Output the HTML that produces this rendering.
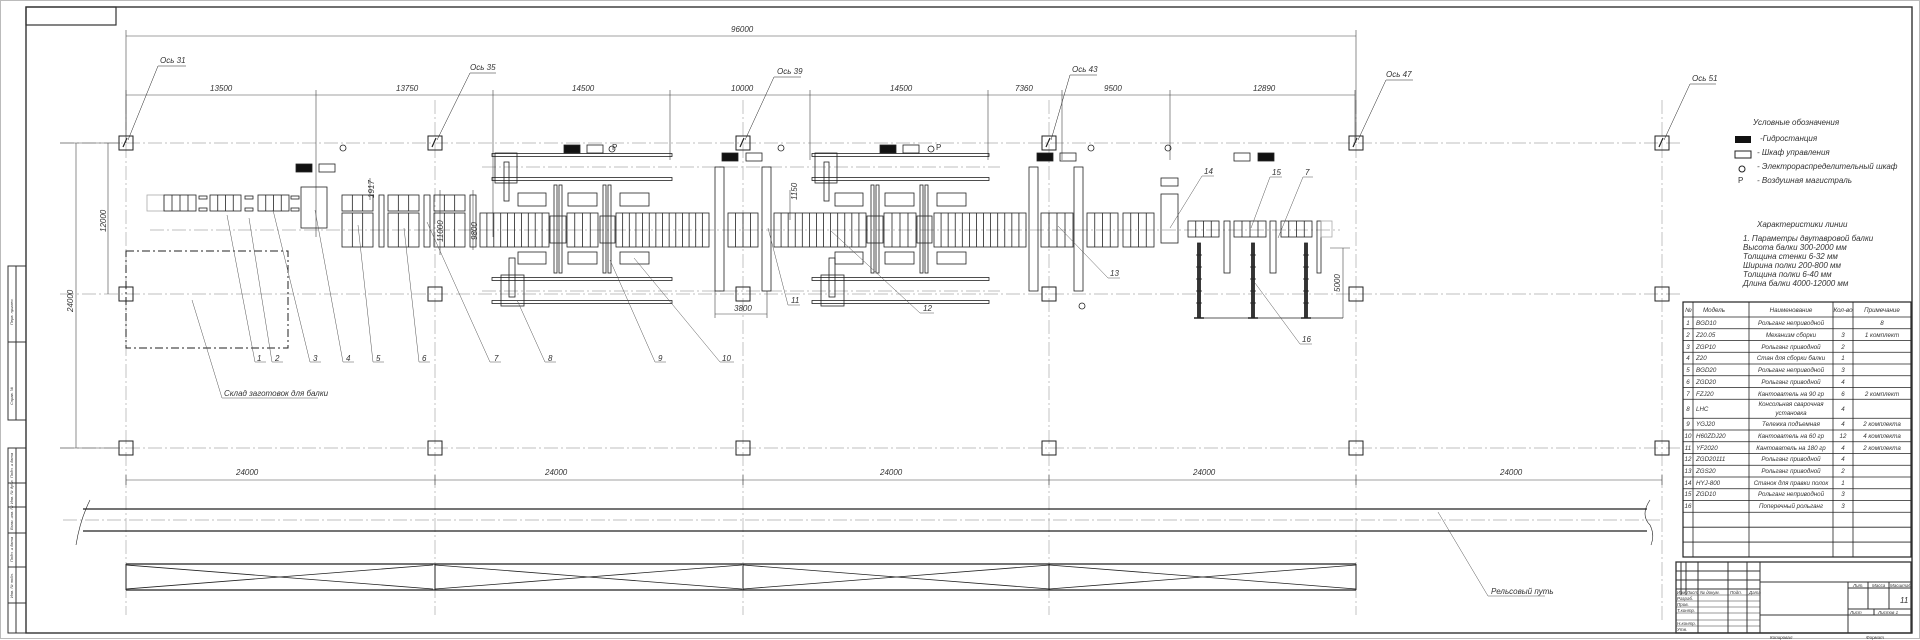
<!DOCTYPE html>
<html><head><meta charset="utf-8">
<style>
html,body{margin:0;padding:0;background:#fff;}
svg{display:block}
text{font-family:"Liberation Sans",sans-serif;font-style:italic;fill:#333;}
</style></head>
<body>
<svg id="s" width="1920" height="640" viewBox="0 0 1920 640" xmlns="http://www.w3.org/2000/svg">
<rect x="0.5" y="0.5" width="1919" height="638" fill="none" stroke="#bbb" stroke-width="1"/>
<g id="g" fill="none" stroke="#222" stroke-width="0.8"></g>
<rect x="26" y="7" width="1886" height="626" fill="none" stroke="#333" stroke-width="1.4"/>
<rect x="26" y="7" width="90" height="18" fill="none" stroke="#333" stroke-width="1.2"/>
<g fill="none" stroke="#333" stroke-width="1">
<rect x="8" y="266" width="18" height="154"/><line x1="16" y1="266" x2="16" y2="420"/><line x1="8" y1="342" x2="26" y2="342"/>
<rect x="8" y="448" width="18" height="185"/><line x1="16" y1="448" x2="16" y2="633"/>
<line x1="8" y1="483" x2="26" y2="483"/><line x1="8" y1="507" x2="26" y2="507"/><line x1="8" y1="533" x2="26" y2="533"/><line x1="8" y1="567" x2="26" y2="567"/><line x1="8" y1="603" x2="26" y2="603"/>
</g>
<g font-size="4">
<text transform="translate(13,325) rotate(-90)">Перв. примен.</text>
<text transform="translate(13,405) rotate(-90)">Справ. №</text>
<text transform="translate(13,478) rotate(-90)">Подп. и дата</text>
<text transform="translate(13,504) rotate(-90)">Инв. № дубл.</text>
<text transform="translate(13,530) rotate(-90)">Взам. инв. №</text>
<text transform="translate(13,562) rotate(-90)">Подп. и дата</text>
<text transform="translate(13,598) rotate(-90)">Инв. № подл.</text>
</g>

<g font-size="8">
<text x="731" y="32">96000</text>
<text x="210" y="91">13500</text>
<text x="396" y="91">13750</text>
<text x="572" y="91">14500</text>
<text x="731" y="91">10000</text>
<text x="890" y="91">14500</text>
<text x="1015" y="91">7360</text>
<text x="1104" y="91">9500</text>
<text x="1253" y="91">12890</text>
<text x="236" y="475">24000</text>
<text x="545" y="475">24000</text>
<text x="880" y="475">24000</text>
<text x="1193" y="475">24000</text>
<text x="1500" y="475">24000</text>
<text x="734" y="311">3800</text>
<text transform="translate(73,312) rotate(-90)">24000</text>
<text transform="translate(106,232) rotate(-90)">12000</text>
<text transform="translate(374,198) rotate(-90)">1917</text>
<text transform="translate(443,242) rotate(-90)">11000</text>
<text transform="translate(477,240) rotate(-90)">9800</text>
<text transform="translate(797,200) rotate(-90)">1150</text>
<text transform="translate(1340,292) rotate(-90)">5000</text>
<text x="160" y="63">Ось 31</text>
<text x="470" y="70">Ось 35</text>
<text x="777" y="74">Ось 39</text>
<text x="1072" y="72">Ось 43</text>
<text x="1386" y="77">Ось 47</text>
<text x="1692" y="81">Ось 51</text>
<text x="257" y="361">1</text><text x="275" y="361">2</text><text x="313" y="361">3</text><text x="346" y="361">4</text><text x="376" y="361">5</text><text x="422" y="361">6</text><text x="494" y="361">7</text><text x="548" y="361">8</text><text x="658" y="361">9</text><text x="722" y="361">10</text>
<text x="791" y="303">11</text><text x="923" y="311">12</text><text x="1110" y="276">13</text><text x="1204" y="174">14</text><text x="1272" y="175">15</text><text x="1305" y="175">7</text><text x="1302" y="342">16</text>
<text x="224" y="396">Склад заготовок для балки</text>
<text x="1491" y="594">Рельсовый путь</text>
<text x="612" y="150" style="font-style:normal">P</text>
<text x="936" y="150" style="font-style:normal">P</text>
</g>
<g font-size="8">
<text x="1753" y="125">Условные обозначения</text>
<text x="1760" y="141">-Гидростанция</text>
<text x="1757" y="155">- Шкаф управления</text>
<text x="1757" y="169">- Электрораспределительный шкаф</text>
<text x="1738" y="183" style="font-style:normal">P</text>
<text x="1757" y="183">- Воздушная магистраль</text>
<text x="1757" y="227">Характеристики линии</text>
<text x="1743" y="241">1. Параметры двутавровой балки</text>
<text x="1743" y="250">Высота балки 300-2000 мм</text>
<text x="1743" y="259">Толщина стенки 6-32 мм</text>
<text x="1743" y="268">Ширина полки 200-800 мм</text>
<text x="1743" y="277">Толщина полки 6-40 мм</text>
<text x="1743" y="286">Длина балки 4000-12000 мм</text>
</g>
<rect x="1735" y="136" width="16" height="7" fill="#111"/>
<rect x="1735" y="151" width="16" height="7" fill="none" stroke="#222"/>
<circle cx="1742" cy="169" r="3" fill="none" stroke="#222"/>
<g id="tb" fill="none" stroke="#333" stroke-width="0.8"></g>
<g font-size="6.2">
<text x="1685" y="312">№</text><text x="1703" y="312">Модель</text>
<g text-anchor="middle">
<text x="1791" y="312">Наименование</text><text x="1843" y="312">Кол-во</text><text x="1882" y="312">Примечание</text>
<text x="1791" y="325">Рольганг неприводной</text><text x="1882" y="325">8</text>
<text x="1791" y="337">Механизм сборки</text><text x="1843" y="337">3</text><text x="1882" y="337">1 комплект</text>
<text x="1791" y="349">Рольганг приводной</text><text x="1843" y="349">2</text>
<text x="1791" y="360">Стан для сборки балки</text><text x="1843" y="360">1</text>
<text x="1791" y="372">Рольганг неприводной</text><text x="1843" y="372">3</text>
<text x="1791" y="384">Рольганг приводной</text><text x="1843" y="384">4</text>
<text x="1791" y="396">Кантователь на 90 гр</text><text x="1843" y="396">6</text><text x="1882" y="396">2 комплект</text>
<text x="1791" y="406">Консольная сварочная</text><text x="1791" y="415">установка</text><text x="1843" y="411">4</text>
<text x="1791" y="426">Тележка подъемная</text><text x="1843" y="426">4</text><text x="1882" y="426">2 комплекта</text>
<text x="1791" y="438">Кантователь на 60 гр</text><text x="1843" y="438">12</text><text x="1882" y="438">4 комплекта</text>
<text x="1791" y="450">Кантователь на 180 гр</text><text x="1843" y="450">4</text><text x="1882" y="450">2 комплекта</text>
<text x="1791" y="461">Рольганг приводной</text><text x="1843" y="461">4</text>
<text x="1791" y="473">Рольганг приводной</text><text x="1843" y="473">2</text>
<text x="1791" y="485">Станок для правки полок</text><text x="1843" y="485">1</text>
<text x="1791" y="496">Рольганг неприводной</text><text x="1843" y="496">3</text>
<text x="1791" y="508">Поперечный рольганг</text><text x="1843" y="508">3</text>
<text x="1688" y="325">1</text><text x="1688" y="337">2</text><text x="1688" y="349">3</text><text x="1688" y="360">4</text><text x="1688" y="372">5</text><text x="1688" y="384">6</text><text x="1688" y="396">7</text><text x="1688" y="411">8</text><text x="1688" y="426">9</text><text x="1688" y="438">10</text><text x="1688" y="450">11</text><text x="1688" y="461">12</text><text x="1688" y="473">13</text><text x="1688" y="485">14</text><text x="1688" y="496">15</text><text x="1688" y="508">16</text>
</g>
<text x="1696" y="325">BGD10</text><text x="1696" y="337">Z20.05</text><text x="1696" y="349">ZGP10</text><text x="1696" y="360">Z20</text><text x="1696" y="372">BGD20</text><text x="1696" y="384">ZGD20</text><text x="1696" y="396">FZJ20</text><text x="1696" y="411">LHC</text><text x="1696" y="426">YGJ20</text><text x="1696" y="438">H60ZDJ20</text><text x="1696" y="450">YF2020</text><text x="1696" y="461">ZGD20111</text><text x="1696" y="473">ZGS20</text><text x="1696" y="485">HYJ-800</text><text x="1696" y="496">ZGD10</text>
</g>
<g fill="none" stroke="#333" stroke-width="1">
<rect x="1676" y="562" width="235" height="71" stroke-width="1.3"/>
<line x1="1760" y1="562" x2="1760" y2="633"/>
<line x1="1681" y1="562" x2="1681" y2="595"/><line x1="1686" y1="562" x2="1686" y2="595"/><line x1="1698" y1="562" x2="1698" y2="633"/><line x1="1728" y1="562" x2="1728" y2="633"/><line x1="1747" y1="562" x2="1747" y2="633"/>
<line x1="1676" y1="571" x2="1760" y2="571"/><line x1="1676" y1="580" x2="1760" y2="580"/><line x1="1676" y1="589" x2="1760" y2="589"/>
<line x1="1676" y1="595" x2="1760" y2="595" stroke-width="0.5"/><line x1="1676" y1="601" x2="1760" y2="601" stroke-width="0.5"/><line x1="1676" y1="607" x2="1760" y2="607" stroke-width="0.5"/><line x1="1676" y1="613" x2="1760" y2="613" stroke-width="0.5"/><line x1="1676" y1="620" x2="1760" y2="620" stroke-width="0.5"/><line x1="1676" y1="626" x2="1760" y2="626" stroke-width="0.5"/>
<line x1="1760" y1="582" x2="1911" y2="582"/><line x1="1848" y1="582" x2="1848" y2="633"/>
<line x1="1848" y1="588" x2="1911" y2="588"/><line x1="1848" y1="609" x2="1911" y2="609"/><line x1="1760" y1="615" x2="1848" y2="615"/>
<line x1="1868" y1="582" x2="1868" y2="609"/><line x1="1889" y1="582" x2="1889" y2="609"/><line x1="1874" y1="609" x2="1874" y2="615"/><line x1="1848" y1="615" x2="1911" y2="615"/>
</g>
<g font-size="4.5">
<text x="1677" y="594">Изм Лист</text><text x="1700" y="594">№ докум.</text><text x="1730" y="594">Подп.</text><text x="1749" y="594">Дата</text>
<text x="1677" y="600">Разраб.</text><text x="1677" y="606">Пров.</text><text x="1677" y="612">Т.контр.</text><text x="1677" y="625">Н.контр.</text><text x="1677" y="631">Утв.</text>
<text x="1853" y="587">Лит.</text><text x="1872" y="587">Масса</text><text x="1890" y="587">Масштаб</text>
<text x="1850" y="614">Лист</text><text x="1878" y="614">Листов 1</text>
<text x="1770" y="639">Копировал</text><text x="1866" y="639">Формат</text>
</g>
<text x="1900" y="603" font-size="8">11</text>
</svg>
<script>
const g=document.getElementById('g');const NS='http://www.w3.org/2000/svg';
function el(t,a,p){const e=document.createElementNS(NS,t);for(const k in a)e.setAttribute(k,a[k]);(p||g).appendChild(e);return e;}
function L(x1,y1,x2,y2,o){return el('line',Object.assign({x1,y1,x2,y2},o||{}));}
function R(x,y,w,h,o){return el('rect',Object.assign({x,y,width:w,height:h},o||{}));}
const C={stroke:'#aaa','stroke-width':0.7,'stroke-dasharray':'14 3 2 3'};
[143,294,448].forEach(y=>L(60,y,1680,y,C));
L(150,230,1340,230,C);L(482,167,1000,167,C);L(482,291,1000,291,C);
const cols=[126,435,743,1049,1356,1662];
cols.forEach((x,i)=>{L(x,100,x,i==5?620:615,C);});
cols.forEach(x=>{[143,294,448].forEach(y=>R(x-7,y-7,14,14,{'stroke-width':1}));});
cols.forEach(x=>L(x-3,147,x+1,138,{'stroke-width':1.2}));
const D={stroke:'#444','stroke-width':0.6};
L(126,36,1356,36,D);L(126,30,126,130,D);L(1356,30,1356,143,D);
const dx=[126,316,493,670,810,988,1062,1170,1355];
L(126,95,1355,95,D);dx.forEach(x=>{L(x,90,x,x==126||x==1355?143:(x==316||x==493?237:160),D);});
L(126,480,1662,480,D);cols.forEach(x=>L(x,475,x,485,D));
L(76,143,76,448,D);L(60,143,120,143,D);L(60,448,120,448,D);
L(108,143,108,294,D);
L(715,314,767,314,D);L(715,291,715,318,D);L(767,291,767,318,D);
L(1343,248,1343,318,D);L(1330,248,1350,248,D);
L(370,178,370,200,D);L(440,190,440,255,D);L(473,190,473,250,D);L(790,190,790,220,D);
[[128,140,158,66,186],[437,140,470,73,496],[745,140,774,77,801],[1051,140,1070,75,1097],[1358,140,1386,80,1413],[1664,140,1690,84,1716]].forEach(a=>{L(a[0],a[1],a[2],a[3],{'stroke-width':0.5});L(a[2],a[3],a[4],a[3],{'stroke-width':0.5});});
R(126,251,162,97,{'stroke-dasharray':'8 3 2 3','stroke-width':1});
function RG(x1,x2,y1,y2,n){R(x1,y1,x2-x1,y2-y1);for(let i=1;i<n;i++){const x=x1+(x2-x1)*i/n;L(x,y1,x,y2);}}
R(147,195,17,16,{stroke:'#aaa'});
[[164,196],[210,241],[258,289]].forEach(a=>RG(a[0],a[1],195,211,4));
[[199,207],[245,253],[291,299]].forEach(a=>{R(a[0],196,a[1]-a[0],3);R(a[0],208,a[1]-a[0],3);});
R(301,187,26,41);
[[342,373],[388,419],[434,465]].forEach(a=>{RG(a[0],a[1],195,211,3);RG(a[0],a[1],213,247,3);});
[[379,384],[424,430],[470,476]].forEach(a=>R(a[0],195,a[1]-a[0],52));
[[480,549,10],[567,598,4],[616,709,14],[728,758,4],[774,866,13],[884,916,4],[934,1026,13],[1041,1073,4],[1087,1118,4],[1123,1154,4]].forEach(a=>RG(a[0],a[1],213,247,a[2]));
[[550,566],[600,615],[867,883],[917,932]].forEach(a=>R(a[0],216,a[1]-a[0],27));
[[715,724],[762,771],[1029,1038],[1074,1083]].forEach(a=>R(a[0],167,a[1]-a[0],124));
R(1161,194,17,49);R(1161,178,17,8);
[[1188,1219],[1234,1266],[1281,1312]].forEach(a=>RG(a[0],a[1],221,237,4));
[[1224,1230],[1270,1276],[1317,1321]].forEach(a=>R(a[0],221,a[1]-a[0],52));
R(1321,221,11,16,{stroke:'#aaa'});
[1199,1253,1306].forEach(x=>{R(x-1.5,243,3,75,{fill:'#333'});for(let y=255;y<315;y+=12)L(x-3,y,x+3,y);L(x-5,318,x+5,318,{'stroke-width':1.5});});
L(1199,318,1343,318);
function WS(x0,x1,dx){
 [155,179,279,302].forEach(y=>R(x0,y-1.5,x1-x0,3));
 R(x0+3,153,22,30);R(x0+12,162,5,39);
 R(x0+9,275,23,31);R(x0+17,258,6,39);
 [[518,546],[568,597],[620,649]].forEach(a=>{R(a[0]+dx,193,a[1]-a[0],13);R(a[0]+dx,252,a[1]-a[0],12);});
 [554,603].forEach(x=>{R(x+dx,185,3,88);R(x+dx+5,185,3,88);});
}
WS(492,672,0);WS(812,989,317);
function B(x,y){R(x,y,16,8,{fill:'#111'});} function W(x,y){R(x,y,16,8);} function O(x,y){el('circle',{cx:x,cy:y,r:3});}
B(564,145);W(587,145);O(612,149);B(880,145);W(903,145);O(931,149);
B(296,164);W(319,164);O(343,148);
B(722,153);W(746,153);O(781,148);
B(1037,153);W(1060,153);O(1091,148);O(1168,148);O(1082,306);
W(1234,153);B(1258,153);
const LD={'stroke-width':0.5,stroke:'#555'};
[[227,215,255,362,266],[249,218,272,362,283],[273,210,310,362,321],[315,210,343,362,354],[358,225,373,362,384],[404,228,419,362,430],[427,222,490,362,501],[517,300,545,362,556],[610,260,655,362,666],[634,258,720,362,734],[768,228,788,305,800],[830,230,920,313,934],[1058,226,1108,278,1120],[1170,228,1202,176,1214],[1251,228,1270,177,1282],[1278,238,1303,177,1313],[1255,283,1300,344,1312],[192,300,222,398,318]].forEach(a=>{L(a[0],a[1],a[2],a[3],LD);L(a[2],a[3],a[4],a[3],LD);});
L(1438,512,1488,596,LD);L(1488,596,1545,596,LD);
L(83,509,1647,509,{'stroke-width':1.3});L(83,531,1647,531,{'stroke-width':1.3});L(63,520,1660,520,C);
el('path',{d:'M90 500 Q80 520 76 545','stroke-width':0.6});el('path',{d:'M1650 500 Q1640 515 1650 525 Q1655 535 1651 545','stroke-width':0.6});
L(126,564,1356,564,{'stroke-width':1.2});L(126,590,1356,590,{'stroke-width':1.2});
for(let i=0;i<4;i++){const a=cols[i],b=cols[i]+307,m=(a+b)/2;L(a,564,a,590,{'stroke-width':1});L(a,565,m,577);L(m,577,b,565);L(a,589,m,577);L(m,577,b,589);}
L(1356,564,1356,590,{'stroke-width':1});
const tb=document.getElementById('tb');
R(1683,302,228,255,{'stroke-width':1.2},tb);
[1693,1749,1833,1853].forEach(x=>L(x,302,x,557,{},tb));
let ys=[317];let y=317;for(let i=1;i<=16;i++){y+=(i==8?19:11.75);ys.push(y);}const st=(557-y)/3;for(let i=0;i<2;i++){y+=st;ys.push(y);}
ys.forEach(v=>L(1683,v,1911,v,{},tb));
</script>
</body></html>
